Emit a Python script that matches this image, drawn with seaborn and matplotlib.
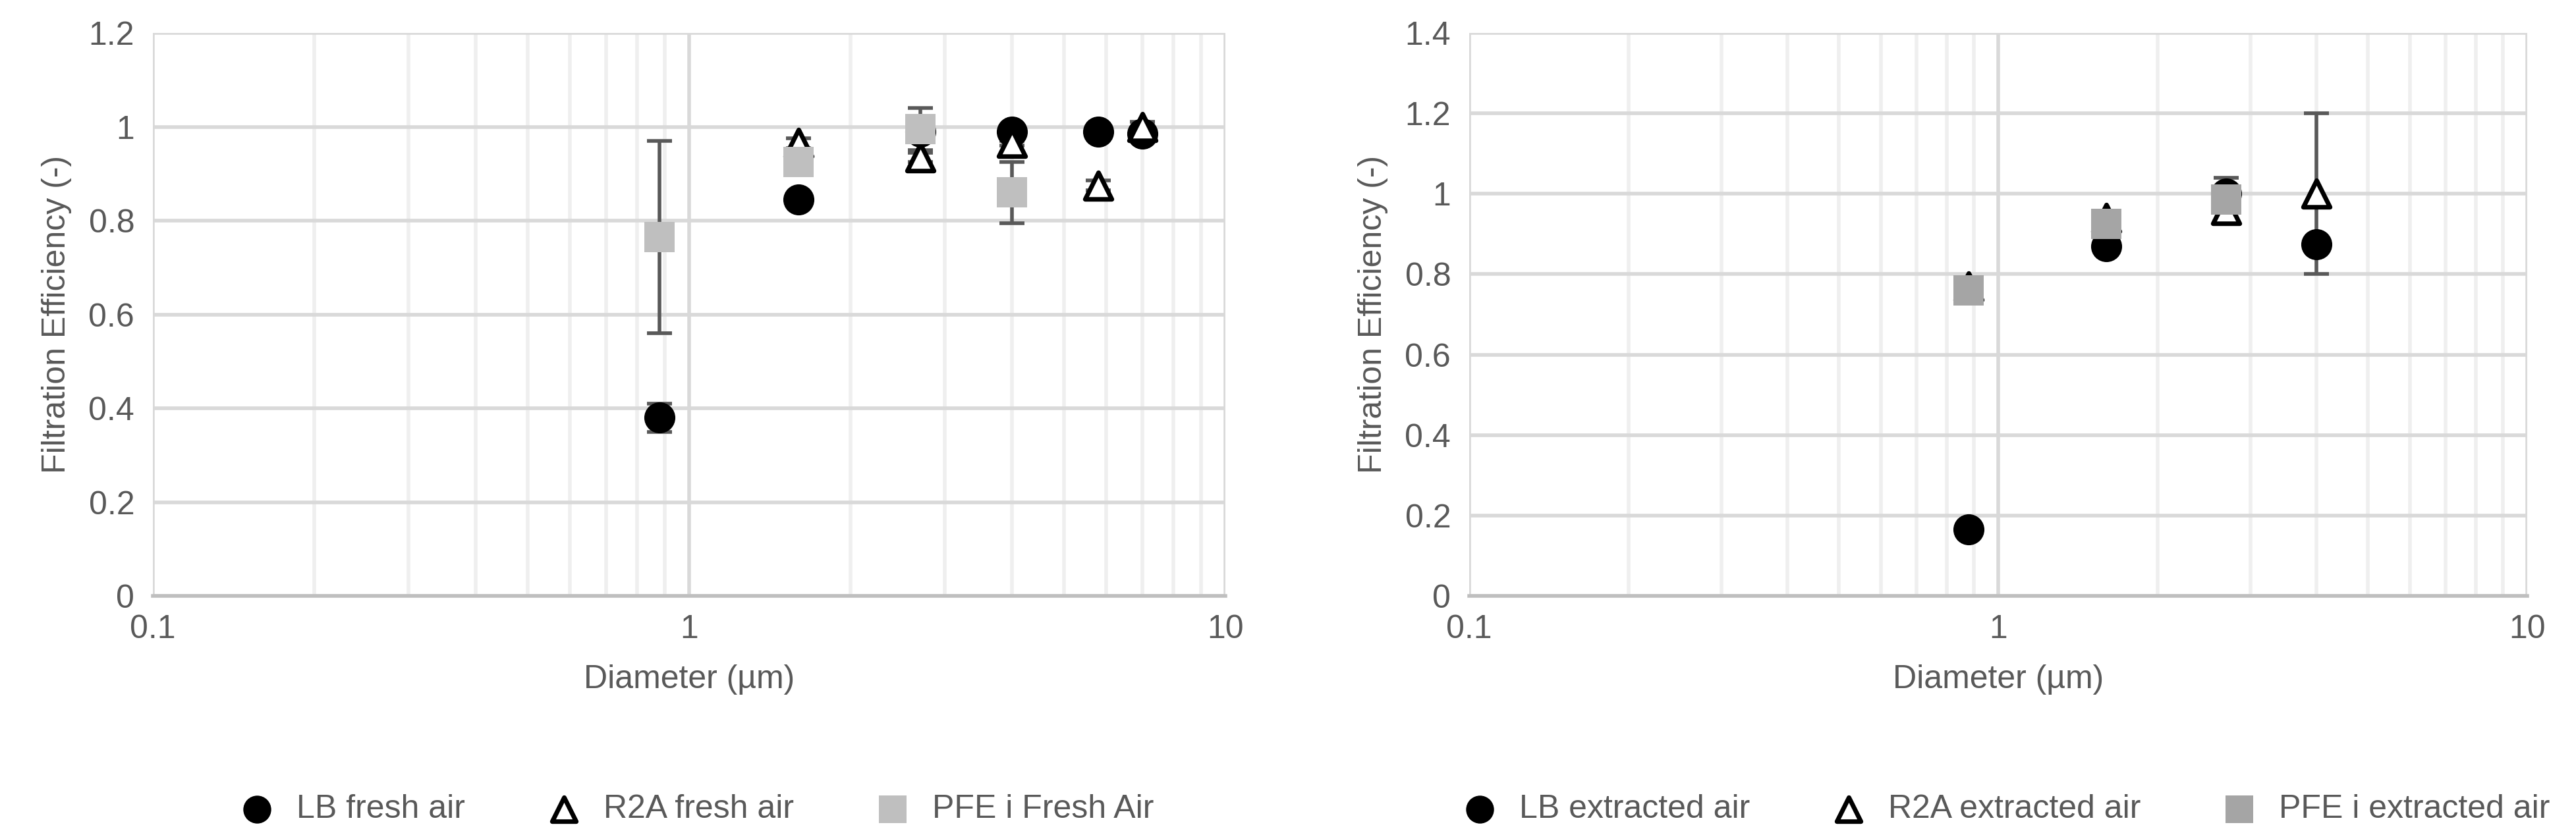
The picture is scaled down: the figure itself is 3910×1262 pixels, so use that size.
import numpy as np
import pandas as pd
import seaborn as sns
import matplotlib.pyplot as plt
from matplotlib.ticker import LogLocator, NullFormatter, FixedLocator

# fresh air
d_fresh = [0.88, 1.6, 2.7, 4.0, 5.8, 7.0]
lb_fresh = [0.38, 0.845, 0.99, 0.99, 0.99, 0.985]
lb_fresh_err = [0.03, 0.0, 0.0, 0.0, 0.0, 0.0]
r2a_fresh = [np.nan, 0.965, 0.935, 0.965, 0.875, 1.0]
r2a_fresh_err = [0.0, 0.01, 0.01, 0.005, 0.01, 0.01]
pfe_fresh = [0.765, 0.925, 0.995, 0.86]
pfe_fresh_err = [0.205, 0.0, 0.045, 0.065]

# extracted air
d_ext = [0.88, 1.6, 2.7, 4.0]
lb_ext = [0.165, 0.87, 1.0, 0.875]
lb_ext_err = [0.0, 0.0, 0.04, 0.0]
r2a_ext = [0.77, 0.94, 0.96, 1.0]
r2a_ext_err = [0.02, 0.0, 0.0, 0.2]
pfe_ext = [0.76, 0.925, 0.985]
pfe_ext_err = [0.0, 0.0, 0.0]

sns.set_style("white")
plt.rcParams['font.family'] = ['Liberation Sans', 'DejaVu Sans']
grey = '#595959'
fs = 36

fig = plt.figure(figsize=(39.1, 12.62), dpi=100)
ax1 = fig.add_axes([232 / 3910, 1 - 905 / 1262, 1628 / 3910, 855 / 1262])
ax2 = fig.add_axes([2230 / 3910, 1 - 905 / 1262, 1606 / 3910, 855 / 1262])


def panel(ax, d, lb, lbe, r2, r2e, pf, pfe, labels, sqcol, ymax):
    n = len(pf)
    df_lb = pd.DataFrame({'d': d, 'v': lb})
    df_r2 = pd.DataFrame({'d': d, 'v': r2})
    df_pf = pd.DataFrame({'d': d[:n], 'v': pf})
    eb = dict(fmt='none', ecolor=grey, elinewidth=4, capsize=14, capthick=4, zorder=2)
    ax.errorbar(d, lb, yerr=lbe, **eb)
    ax.errorbar(d, r2, yerr=r2e, **eb)
    ax.errorbar(d[:n], pf, yerr=pfe, **eb)
    sns.scatterplot(data=df_lb, x='d', y='v', ax=ax, marker='o', s=1150, color='black',
                    edgecolor='black', linewidth=0, label=labels[0], zorder=3)
    sns.scatterplot(data=df_r2, x='d', y='v', ax=ax, marker='^', s=850, facecolor='white',
                    edgecolor='black', linewidth=5, label=labels[1], zorder=4)
    sns.scatterplot(data=df_pf, x='d', y='v', ax=ax, marker='s', s=1100, color=sqcol,
                    linewidth=0, label=labels[2], zorder=5)
    ax.set_xscale('log')
    ax.set_xlim(0.1, 10)
    ax.set_ylim(0, ymax)
    ax.yaxis.set_major_locator(FixedLocator(np.arange(0, ymax + 0.01, 0.2)))
    ax.set_yticklabels(['0'] + [f'{v:g}' for v in np.arange(0.2, ymax + 0.01, 0.2)])
    ax.xaxis.set_major_locator(FixedLocator([0.1, 1, 10]))
    ax.set_xticklabels(['0.1', '1', '10'])
    ax.xaxis.set_minor_locator(LogLocator(base=10, subs=np.arange(2, 10)))
    ax.xaxis.set_minor_formatter(NullFormatter())
    ax.grid(True, which='major', color='#d9d9d9', linewidth=4)
    ax.grid(True, which='minor', axis='x', color='#efefef', linewidth=4)
    ax.set_axisbelow(True)
    for s in ['top', 'right', 'left']:
        ax.spines[s].set_visible(False)
    ax.spines['bottom'].set_color('#bfbfbf')
    ax.spines['bottom'].set_linewidth(4)
    ax.tick_params(axis='both', length=0, labelsize=fs, labelcolor=grey, pad=20)
    ax.set_xlabel('Diameter (µm)', fontsize=fs, color=grey, labelpad=22)
    ax.set_ylabel('Filtration Efficiency (-)', fontsize=fs, color=grey, labelpad=18)
    ax.legend(loc='upper center', bbox_to_anchor=(0.5, -0.3), ncol=3, frameon=False,
              fontsize=fs, labelcolor=grey, markerscale=0.9, handletextpad=0.2, columnspacing=2)


panel(ax1, d_fresh, lb_fresh, lb_fresh_err, r2a_fresh, r2a_fresh_err, pfe_fresh, pfe_fresh_err,
      ['LB fresh air', 'R2A fresh air', 'PFE i Fresh Air'], '#bfbfbf', 1.2)
panel(ax2, d_ext, lb_ext, lb_ext_err, r2a_ext, r2a_ext_err, pfe_ext, pfe_ext_err,
      ['LB extracted air', 'R2A extracted air', 'PFE i extracted air'], '#a5a5a5', 1.4)

fig.savefig('out.png', dpi=100)
